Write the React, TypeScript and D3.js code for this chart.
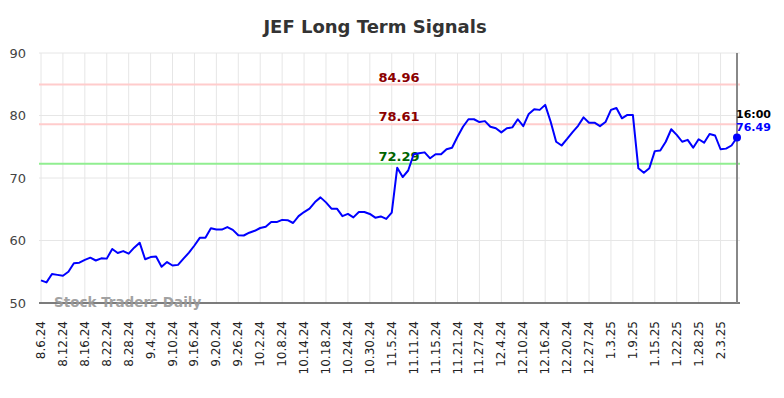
import React, { useEffect, useRef } from "react";
import * as d3 from "d3";

// trading days shown on the chart
const dates = [
  "8.6.24", "8.7.24", "8.8.24", "8.9.24", "8.12.24", "8.13.24", "8.14.24", "8.15.24", "8.16.24", "8.19.24",
  "8.20.24", "8.21.24", "8.22.24", "8.23.24", "8.26.24", "8.27.24", "8.28.24", "8.29.24", "8.30.24", "9.3.24",
  "9.4.24", "9.5.24", "9.6.24", "9.9.24", "9.10.24", "9.11.24", "9.12.24", "9.13.24", "9.16.24", "9.17.24",
  "9.18.24", "9.19.24", "9.20.24", "9.23.24", "9.24.24", "9.25.24", "9.26.24", "9.27.24", "9.30.24", "10.1.24",
  "10.2.24", "10.3.24", "10.4.24", "10.7.24", "10.8.24", "10.9.24", "10.10.24", "10.11.24", "10.14.24", "10.15.24",
  "10.16.24", "10.17.24", "10.18.24", "10.21.24", "10.22.24", "10.23.24", "10.24.24", "10.25.24", "10.28.24", "10.29.24",
  "10.30.24", "10.31.24", "11.1.24", "11.4.24", "11.5.24", "11.6.24", "11.7.24", "11.8.24", "11.11.24", "11.12.24",
  "11.13.24", "11.14.24", "11.15.24", "11.18.24", "11.19.24", "11.20.24", "11.21.24", "11.22.24", "11.25.24", "11.26.24",
  "11.27.24", "11.29.24", "12.2.24", "12.3.24", "12.4.24", "12.5.24", "12.6.24", "12.9.24", "12.10.24", "12.11.24",
  "12.12.24", "12.13.24", "12.16.24", "12.17.24", "12.18.24", "12.19.24", "12.20.24", "12.23.24", "12.24.24", "12.26.24",
  "12.27.24", "12.30.24", "12.31.24", "1.2.25", "1.3.25", "1.6.25", "1.7.25", "1.8.25", "1.9.25", "1.10.25",
  "1.13.25", "1.14.25", "1.15.25", "1.16.25", "1.17.25", "1.21.25", "1.22.25", "1.23.25", "1.24.25", "1.27.25",
  "1.28.25", "1.29.25", "1.30.25", "1.31.25", "2.3.25", "2.4.25", "2.5.25", "2.6.25",
];

const prices = [
  53.63, 53.3, 54.64, 54.5, 54.37, 55.0, 56.35, 56.45, 56.9, 57.25,
  56.8, 57.15, 57.1, 58.65, 58.0, 58.3, 57.9, 58.85, 59.65, 57.0,
  57.35, 57.45, 55.8, 56.55, 56.0, 56.1, 57.1, 58.05, 59.2, 60.45,
  60.45, 61.95, 61.75, 61.75, 62.15, 61.7, 60.85, 60.8, 61.25, 61.55,
  62.0, 62.2, 62.95, 62.95, 63.3, 63.25, 62.8, 63.9, 64.55, 65.1,
  66.15, 66.9, 66.1, 65.1, 65.1, 63.9, 64.25, 63.7, 64.55, 64.55,
  64.25, 63.65, 63.85, 63.45, 64.45, 71.65, 70.15, 71.2, 73.8, 73.95,
  74.1, 73.15, 73.8, 73.8, 74.6, 74.85, 76.6, 78.2, 79.4, 79.4,
  78.95, 79.1, 78.2, 77.95, 77.3, 77.95, 78.1, 79.4, 78.3, 80.25,
  81.0, 80.9, 81.7, 79.0, 75.8, 75.2, 76.25, 77.35, 78.35, 79.7,
  78.85, 78.85, 78.3, 78.95, 80.9, 81.2, 79.55, 80.1, 80.1, 71.55,
  70.85, 71.55, 74.3, 74.4, 75.8, 77.8, 76.9, 75.8, 76.1, 74.85,
  76.2, 75.65, 77.05, 76.8, 74.6, 74.7, 75.2, 76.49,
];

const tickLabels = [
  "8.6.24", "8.12.24", "8.16.24", "8.22.24", "8.28.24", "9.4.24", "9.10.24", "9.16.24", "9.20.24", "9.26.24",
  "10.2.24", "10.8.24", "10.14.24", "10.18.24", "10.24.24", "10.30.24", "11.5.24", "11.11.24", "11.15.24", "11.21.24",
  "11.27.24", "12.4.24", "12.10.24", "12.16.24", "12.20.24", "12.27.24", "1.3.25", "1.9.25", "1.15.25", "1.22.25",
  "1.28.25", "2.3.25",
];

const yTicks = [50, 60, 70, 80, 90];

const resistance = [84.96, 78.61];
const support = [72.29];
const lastTime = "16:00";

export default function App() {
  const ref = useRef<SVGSVGElement>(null);

  useEffect(() => {
    const svg = d3.select(ref.current);
    svg.selectAll("*").remove();

    const left = 41, right = 737, top = 53, bottom = 303;
    const x = d3.scalePoint<string>().domain(dates).range([left, right]);
    const y = d3.scaleLinear().domain([50, 90]).range([bottom, top]);

    const g = svg.append("g");

    // grid
    g.selectAll(".vgrid").data(tickLabels).join("line")
      .attr("x1", d => x(d)!).attr("x2", d => x(d)!)
      .attr("y1", top).attr("y2", bottom)
      .attr("stroke", "#e6e6e6").attr("stroke-width", 1);
    g.selectAll(".hgrid").data(yTicks).join("line")
      .attr("x1", left - 2).attr("x2", right + 3)
      .attr("y1", d => y(d)).attr("y2", d => y(d))
      .attr("stroke", "#e6e6e6").attr("stroke-width", 1);

    // signal lines
    const levels = [
      ...resistance.map(v => ({ v, line: "#ffcccc", text: "#8b0000" })),
      ...support.map(v => ({ v, line: "#90ee90", text: "#006400" })),
    ];
    g.selectAll(".lvl").data(levels).join("line")
      .attr("x1", left - 2).attr("x2", right + 3)
      .attr("y1", d => y(d.v)).attr("y2", d => y(d.v))
      .attr("stroke", d => d.line).attr("stroke-width", 2);
    g.selectAll(".lvlText").data(levels).join("text")
      .attr("x", 399).attr("y", d => y(d.v) - 3)
      .attr("text-anchor", "middle")
      .attr("font-family", "DejaVu Sans").attr("font-weight", "bold").attr("font-size", 13)
      .attr("fill", d => d.text)
      .text(d => d.v.toFixed(2));

    // axes lines
    g.append("line").attr("x1", left - 2).attr("x2", right + 3)
      .attr("y1", bottom).attr("y2", bottom)
      .attr("stroke", "#555").attr("stroke-width", 1.5);
    g.append("line").attr("x1", right).attr("x2", right)
      .attr("y1", top).attr("y2", bottom)
      .attr("stroke", "#888").attr("stroke-width", 2);

    // watermark
    g.append("text").attr("x", 54).attr("y", 307)
      .attr("font-family", "DejaVu Sans").attr("font-weight", "bold").attr("font-size", 13.5)
      .attr("fill", "#999").attr("opacity", 0.9)
      .text("Stock Traders Daily");

    // price line
    const line = d3.line<number>().x((_, i) => x(dates[i])!).y(d => y(d));
    g.append("path").datum(prices)
      .attr("d", line)
      .attr("fill", "none").attr("stroke", "#0000ff").attr("stroke-width", 2)
      .attr("stroke-linejoin", "round");

    const lastX = x(dates[dates.length - 1])!;
    const lastV = prices[prices.length - 1];
    g.append("circle").attr("cx", lastX).attr("cy", y(lastV)).attr("r", 4).attr("fill", "#0000ff");
    g.append("text").attr("x", lastX - 1).attr("y", y(lastV) - 19)
      .attr("font-family", "DejaVu Sans").attr("font-weight", "bold").attr("font-size", 11)
      .attr("fill", "#000").text(lastTime);
    g.append("text").attr("x", lastX - 1).attr("y", y(lastV) - 6)
      .attr("font-family", "DejaVu Sans").attr("font-weight", "bold").attr("font-size", 11)
      .attr("fill", "#0000ff").text(lastV.toFixed(2));

    // y labels
    g.selectAll(".ylab").data(yTicks).join("text")
      .attr("x", 26).attr("y", d => y(d) + 4.5)
      .attr("text-anchor", "end")
      .attr("font-family", "DejaVu Sans").attr("font-size", 13)
      .attr("fill", "#444")
      .text(d => d);

    // x labels
    g.selectAll(".xlab").data(tickLabels).join("text")
      .attr("transform", d => `translate(${x(d)! + 4},${321}) rotate(-90)`)
      .attr("text-anchor", "end")
      .attr("font-family", "DejaVu Sans").attr("font-size", 12)
      .attr("fill", "#222")
      .text(d => d);

    // title
    svg.append("text").attr("x", 375).attr("y", 33)
      .attr("text-anchor", "middle")
      .attr("font-family", "DejaVu Sans").attr("font-weight", "bold").attr("font-size", 18)
      .attr("fill", "#333")
      .text("JEF Long Term Signals");
  }, []);

  return (
    <svg ref={ref} width={784} height={398}
      style={{ position: "absolute", left: 0, top: 0, background: "#fff" }} />
  );
}
